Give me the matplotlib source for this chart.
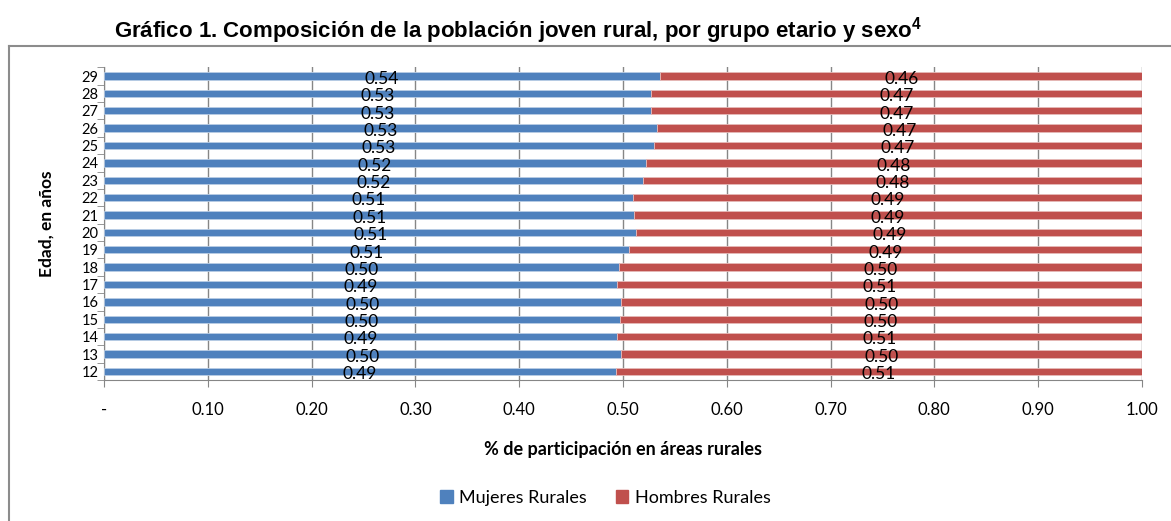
import matplotlib.pyplot as plt
from matplotlib.lines import Line2D
from matplotlib.patches import Patch

# edades y participacion
edades = [12, 13, 14, 15, 16, 17, 18, 19, 20, 21, 22, 23, 24, 25, 26, 27, 28, 29]
mujeres = [0.493, 0.498, 0.494, 0.497, 0.498, 0.494, 0.496, 0.506, 0.513, 0.511,
           0.510, 0.519, 0.522, 0.530, 0.533, 0.527, 0.527, 0.536]
hombres = [0.507, 0.502, 0.506, 0.503, 0.502, 0.506, 0.504, 0.494, 0.487, 0.489,
           0.490, 0.481, 0.478, 0.470, 0.467, 0.473, 0.473, 0.464]
xticks = [0, 0.1, 0.2, 0.3, 0.4, 0.5, 0.6, 0.7, 0.8, 0.9, 1.0]
xlabels = ['-', '0.10', '0.20', '0.30', '0.40', '0.50', '0.60', '0.70', '0.80', '0.90', '1.00']

azul = '#4F81BD'
rojo = '#C0504D'
gris = '#868686'
fuente = 'Lato'

# superindice del titulo en la misma fuente
plt.rcParams['mathtext.fontset'] = 'custom'
plt.rcParams['mathtext.rm'] = 'Liberation Sans'
plt.rcParams['mathtext.bf'] = 'Liberation Sans:bold'

fig = plt.figure(figsize=(11.71, 5.21), dpi=100)
ax = fig.add_axes([0.0888, 0.2705, 0.8864, 0.6003])

ax.barh(edades, mujeres, height=0.42, color=azul, edgecolor='#B9CDE5', linewidth=0.6, zorder=3)
ax.barh(edades, hombres, left=mujeres, height=0.42, color=rojo, edgecolor='#E6B9B8', linewidth=0.6, zorder=3)

# etiquetas de datos en el centro de cada segmento
for e, m, h in zip(edades, mujeres, hombres):
    ax.annotate('%.2f' % m, (m / 2, e), xytext=(0, -2), textcoords='offset points',
                ha='center', va='center', fontsize=12.5, family=fuente, zorder=4)
    ax.annotate('%.2f' % h, (m + h / 2, e), xytext=(0, -2), textcoords='offset points',
                ha='center', va='center', fontsize=12.5, family=fuente, zorder=4)

ax.set_xlim(0, 1)
ax.set_ylim(11.5, 29.5)
ax.set_xticks(xticks)
ax.set_xticklabels(xlabels, family=fuente, fontsize=12)
ax.set_yticks(edades)
ax.set_yticklabels([str(e) for e in edades], family=fuente, fontsize=10.5)
ax.set_yticks([e - 0.5 for e in edades] + [29.5], minor=True)
ax.tick_params(axis='y', which='major', length=0, pad=4)
ax.tick_params(axis='y', which='minor', length=5, color=gris)
ax.tick_params(axis='x', length=5, color=gris, pad=11)
ax.grid(axis='x', color=gris, linewidth=1, zorder=0)

for s in ['top', 'right']:
    ax.spines[s].set_visible(False)
for s in ['left', 'bottom']:
    ax.spines[s].set_color(gris)

ax.set_xlabel('% de participación en áreas rurales', family=fuente, fontsize=13,
              fontweight='bold', labelpad=16)
ax.set_ylabel('Edad, en años', family=fuente, fontsize=12.5, fontweight='bold', labelpad=19)

handles = [Patch(color=azul), Patch(color=rojo)]
fig.legend(handles, ['Mujeres Rurales', 'Hombres Rurales'], loc='center',
           bbox_to_anchor=(0.517, 0.044), ncol=2, frameon=False,
           prop={'family': fuente, 'size': 13}, handlelength=0.7, handleheight=0.7,
           handletextpad=0.35, columnspacing=1.6)

# marco del grafico
fig.add_artist(Line2D([9 / 1171, 1], [1 - 46 / 521, 1 - 46 / 521], color='#8C8C8C', linewidth=1.5))
fig.add_artist(Line2D([9 / 1171, 9 / 1171], [0, 1 - 46 / 521], color='#8C8C8C', linewidth=1.5))

fig.text(518 / 1171, 1 - 31 / 521,
         r'Gráfico 1. Composición de la población joven rural, por grupo etario y sexo$^{\mathbf{4}}$',
         ha='center', va='center', family='Liberation Sans', fontsize=16, fontweight='bold')

fig.savefig('out.png', dpi=100)
